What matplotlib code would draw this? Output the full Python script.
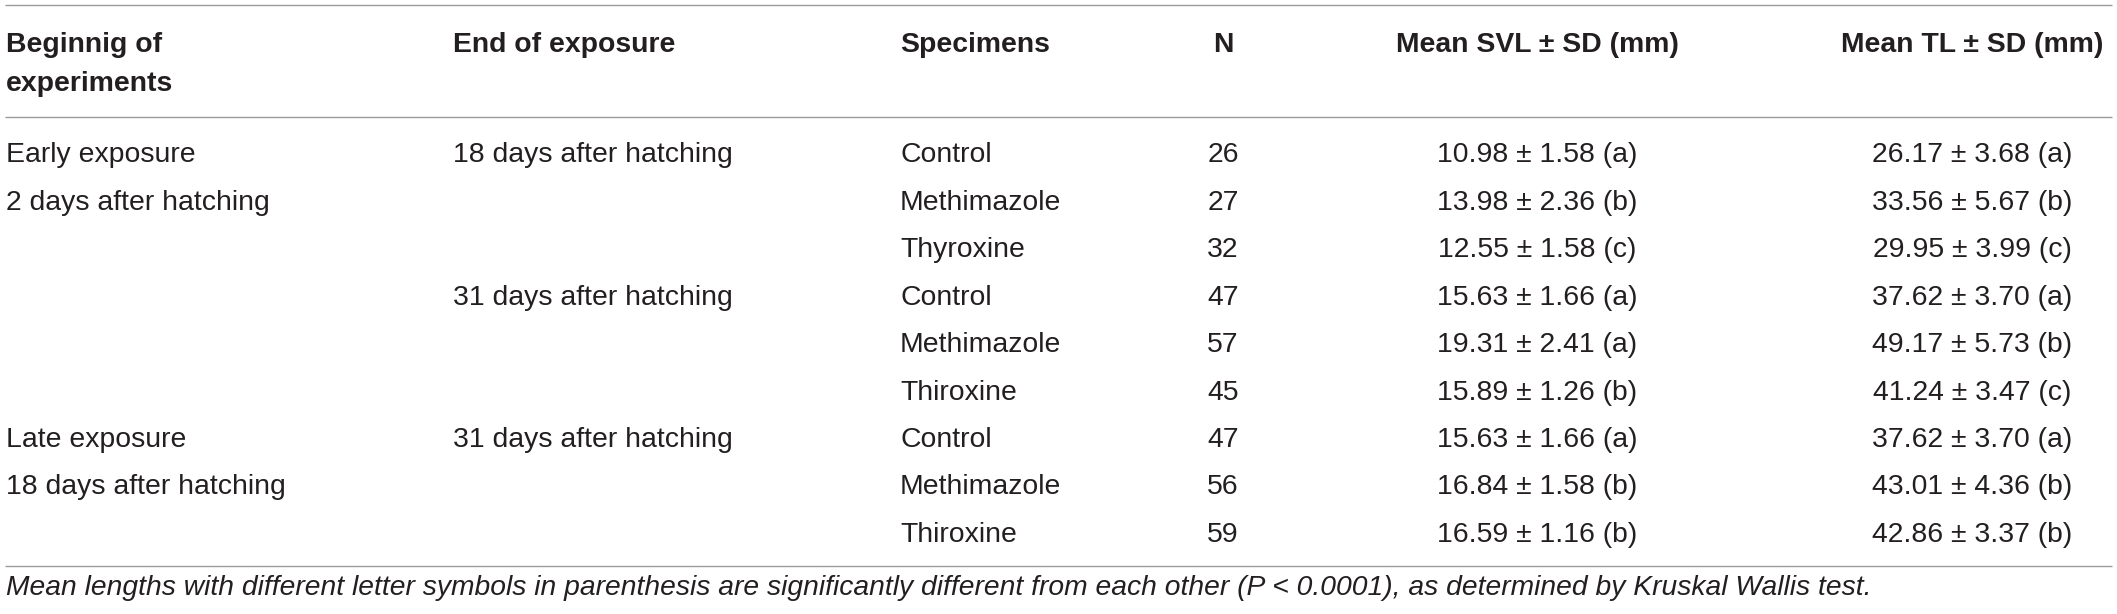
import matplotlib
matplotlib.use("Agg")
import matplotlib.pyplot as plt

# ---- data ----
headers = ["Beginnig of\nexperiments", "End of exposure", "Specimens", "N",
           "Mean SVL \u00b1 SD (mm)", "Mean TL \u00b1 SD (mm)"]
start_groups = ["Early exposure", "2 days after hatching", "", "", "", "",
                "Late exposure", "18 days after hatching", ""]
end_groups = ["18 days after hatching", "", "", "31 days after hatching", "", "",
              "31 days after hatching", "", ""]
specimens = ["Control", "Methimazole", "Thyroxine", "Control", "Methimazole",
             "Thiroxine", "Control", "Methimazole", "Thiroxine"]
n_values = [26, 27, 32, 47, 57, 45, 47, 56, 59]
svl_mean = [10.98, 13.98, 12.55, 15.63, 19.31, 15.89, 15.63, 16.84, 16.59]
svl_sd = [1.58, 2.36, 1.58, 1.66, 2.41, 1.26, 1.66, 1.58, 1.16]
svl_group = ["a", "b", "c", "a", "a", "b", "a", "b", "b"]
tl_mean = [26.17, 33.56, 29.95, 37.62, 49.17, 41.24, 37.62, 43.01, 42.86]
tl_sd = [3.68, 5.67, 3.99, 3.70, 5.73, 3.47, 3.70, 4.36, 3.37]
tl_group = ["a", "b", "c", "a", "b", "c", "a", "b", "b"]
footnote = ("Mean lengths with different letter symbols in parenthesis are significantly "
            "different from each other (P < 0.0001), as determined by Kruskal Wallis test.")

# ---- layout / style ----
W, H = 2117, 614
FAM = ["Liberation Sans", "DejaVu Sans"]
TXT = "#231f20"
LINE = "#9a9a9a"
FS = 20.4

fig = plt.figure(figsize=(W / 100, H / 100), dpi=100)
ax = fig.add_axes([0, 0, 1, 1])
ax.set_xlim(0, W)
ax.set_ylim(H, 0)
ax.axis("off")

col_x = [6, 453, 900, 1223, 1537, 1972]
col_ha = ["left", "left", "left", "center", "center", "center"]

# horizontal rules
for y in (5.3, 116.7, 566):
    ax.plot([5, 2112], [y, y], color=LINE, lw=1.0, solid_capstyle="butt")

# header
for h, x, ha in zip(headers, col_x, col_ha):
    for k, line in enumerate(h.split("\n")):
        ax.text(x, 51.7 + 39 * k, line, ha=ha, va="baseline", fontsize=FS,
                fontweight="bold", family=FAM, color=TXT)

# body rows
base0, step = 162.5, 47.4
for i in range(len(specimens)):
    yb = base0 + step * i
    cells = [start_groups[i], end_groups[i], specimens[i], str(n_values[i]),
             f"{svl_mean[i]:.2f} \u00b1 {svl_sd[i]:.2f} ({svl_group[i]})",
             f"{tl_mean[i]:.2f} \u00b1 {tl_sd[i]:.2f} ({tl_group[i]})"]
    for c, x, ha in zip(cells, col_x, col_ha):
        if c:
            ax.text(x, yb, c, ha=ha, va="baseline", fontsize=FS, family=FAM, color=TXT)

# footnote, sized to span the same width as in the reference
ft = ax.text(6, 595, footnote, ha="left", va="baseline", fontsize=19,
             style="italic", family=FAM, color=TXT)
fig.canvas.draw()
r = fig.canvas.get_renderer()
w = ft.get_window_extent(r).width
ft.set_fontsize(19 * (1865 - 6) / w)

fig.savefig("out.png", dpi=100, facecolor="white")
